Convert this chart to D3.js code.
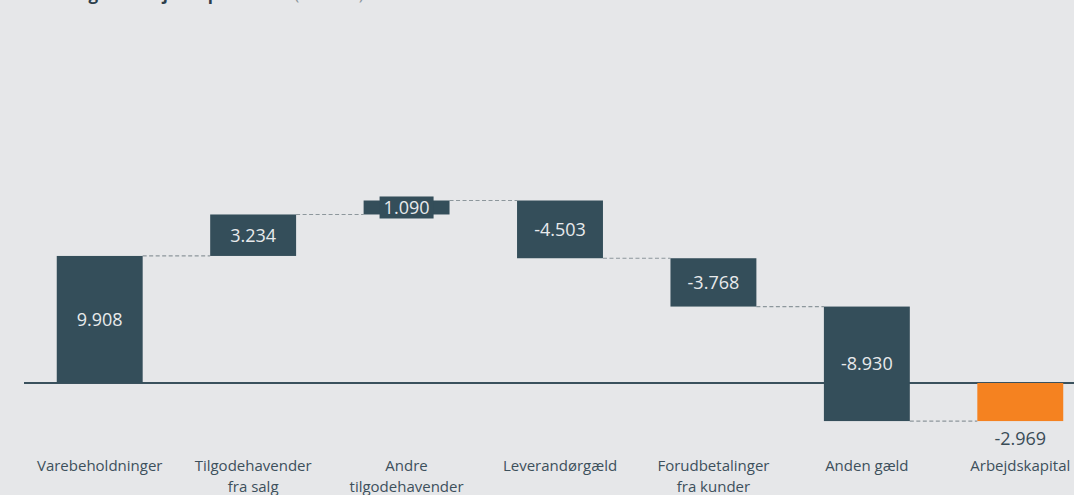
<!DOCTYPE html>
<html>
<head>
<meta charset="utf-8">
<script src="https://cdn.jsdelivr.net/npm/d3@7"></script>
<style>
  body { margin: 0; background: #e6e7e9; }
  svg { display: block; font-family: "Open Sans", sans-serif; }
</style>
</head>
<body>
<svg id="chart" width="1074" height="495"></svg>
<script>
// categories and values (mio. kr.), last one is the total
const categories = ["Varebeholdninger", "Tilgodehavender\nfra salg", "Andre\ntilgodehavender",
    "Leverandørgæld", "Forudbetalinger\nfra kunder", "Anden gæld", "Arbejdskapital"];
const values = [9.908, 3.234, 1.090, -4.503, -3.768, -8.930, -2.969];
const labels = ["9.908", "3.234", "1.090", "-4.503", "-3.768", "-8.930", "-2.969"];
const isTotal = [false, false, false, false, false, false, true];

const svg = d3.select("#chart");
const W = 1074;

// build waterfall steps
let run = 0;
const steps = values.map((v, i) => {
    let start, end;
    if (isTotal[i]) { start = 0; end = v; }
    else { start = run; end = run + v; run = end; }
    return { cat: categories[i], label: labels[i], start: start, end: end, total: isTotal[i] };
});

const x = d3.scaleBand().domain(categories).range([23, 1097]).paddingInner(0.44).paddingOuter(0.22);
const y = d3.scaleLinear().domain([0, 14.232]).range([383, 200.5]);

// title (cut off at the top in the original too)
const title = svg.append("text").attr("x", 18).attr("y", -0.5)
    .style("font-size", "17px").style("font-weight", "bold").attr("fill", "#2c3e4a");
title.append("tspan").text("Udvikling af arbejdskapital");
title.append("tspan").attr("font-weight", "normal").attr("fill", "#8e989e").text(" 2023 (mio. kr.) 31. december");

// connectors
svg.selectAll(".conn")
    .data(steps.slice(0, -1))
    .enter().append("line")
    .attr("x1", d => x(d.cat) + x.bandwidth())
    .attr("x2", (d, i) => x(steps[i + 1].cat))
    .attr("y1", d => y(d.end))
    .attr("y2", d => y(d.end))
    .attr("stroke", "#8d979c")
    .attr("stroke-width", 1.2)
    .attr("stroke-dasharray", "4,2.5");

// baseline
svg.append("line")
    .attr("x1", 24).attr("x2", W)
    .attr("y1", y(0)).attr("y2", y(0))
    .attr("stroke", "#3a515d").attr("stroke-width", 2);

// bars
svg.selectAll(".bar")
    .data(steps)
    .enter().append("rect")
    .attr("x", d => x(d.cat))
    .attr("width", x.bandwidth())
    .attr("y", d => y(Math.max(d.start, d.end)))
    .attr("height", d => Math.abs(y(d.start) - y(d.end)))
    .attr("fill", d => d.total ? "#f58220" : "#344e5a");

// value labels
steps.forEach(d => {
    const cx = x(d.cat) + x.bandwidth() / 2;
    const h = Math.abs(y(d.start) - y(d.end));
    if (d.total) {
        svg.append("text").attr("x", cx).attr("y", y(Math.min(d.start, d.end)) + 24)
            .attr("text-anchor", "middle").style("font-size", "18px")
            .attr("fill", "#3a4c57").text(d.label);
        return;
    }
    const cy = (y(d.start) + y(d.end)) / 2;
    if (h < 24) {
        svg.append("rect").attr("x", cx - 27).attr("y", cy - 11).attr("width", 54).attr("height", 22)
            .attr("fill", "#344e5a");
    }
    svg.append("text").attr("x", cx).attr("y", cy)
        .attr("dy", "0.35em").attr("text-anchor", "middle")
        .style("font-size", "18px").attr("fill", "#e8eaec").text(d.label);
});

// category labels, one text per line
categories.forEach(c => {
    c.split("\n").forEach((t, i) => {
        svg.append("text")
            .attr("x", x(c) + x.bandwidth() / 2)
            .attr("y", 471 + i * 21)
            .attr("text-anchor", "middle")
            .style("font-size", "15px")
            .attr("fill", "#3d505c")
            .text(t);
    });
});
</script>
</body>
</html>
